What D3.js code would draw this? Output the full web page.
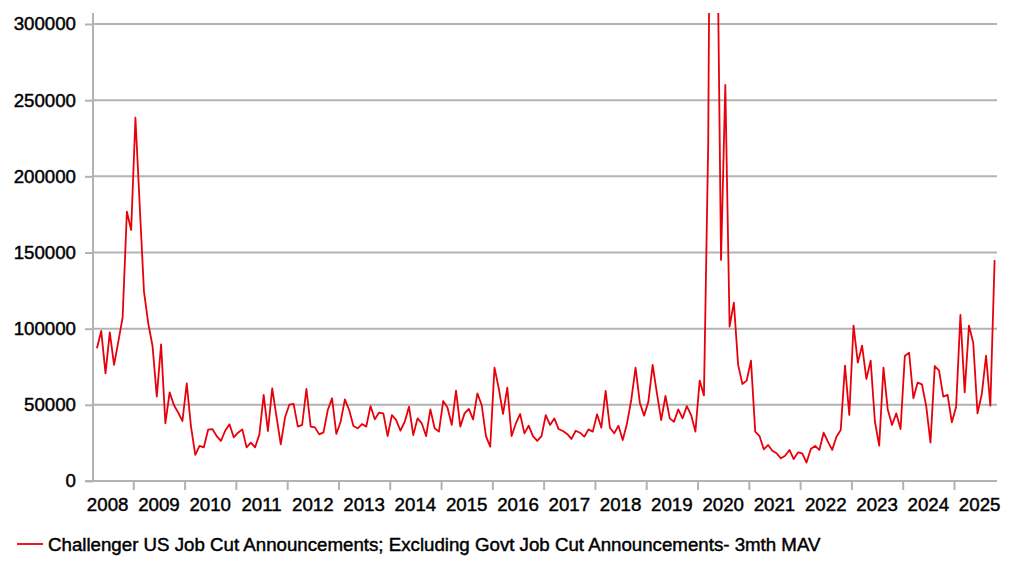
<!DOCTYPE html>
<html>
<head>
<meta charset="utf-8">
<script src="https://cdn.jsdelivr.net/npm/d3@7"></script>
<style>
  html, body { margin: 0; padding: 0; background: #fff; }
  svg { display: block; }
  text { font-family: "Liberation Sans", Arial, sans-serif; fill: #000; stroke: #000; stroke-width: 0.45px; }
</style>
</head>
<body>
<svg id="chart" width="1022" height="578"></svg>
<script>
// ---- data (monthly, starting April 2008) ----
const firstYear = 2008;
const firstMonth = 3; // 0 = January, so 3 = April
const jobCuts = [
  // 2008 Apr-Dec
  87100, 98500, 70700, 97600, 76200, 91500, 107200, 176800, 164800,
  // 2009
  238500, 181000, 124300, 103500, 88600, 55400, 89700, 37900, 58200, 49900, 44900, 39400,
  // 2010
  64100, 35700, 17100, 23000, 22100, 33700, 34100, 29500, 26300, 33000, 37200, 28700,
  // 2011
  31700, 33900, 22100, 25200, 22100, 30600, 56500, 32800, 60800, 42200, 24100, 41800,
  // 2012
  50100, 50600, 35700, 36800, 60400, 35700, 35200, 30600, 31900, 46600, 54300, 30900,
  // 2013
  38900, 53600, 46600, 36100, 34600, 37400, 35700, 49200, 40500, 44900, 44400, 29500,
  // 2014
  43300, 40000, 33000, 38900, 48800, 30200, 41100, 37800, 29500, 47000, 34600, 32400,
  // 2015
  52500, 48300, 36800, 59300, 35700, 44400, 47300, 40500, 57500, 49900, 29500, 22500,
  // 2016
  74400, 60800, 44000, 61300, 29500, 37800, 44000, 31300, 36300, 29500, 26300, 29500,
  // 2017
  43300, 36800, 41100, 34100, 32800, 30900, 27600, 33000, 31700, 29100, 33900, 32400,
  // 2018
  43800, 35000, 59100, 35000, 31300, 36300, 26900, 37800, 53200, 74400, 51400, 42900,
  // 2019
  52100, 76200, 57500, 40000, 55800, 41100, 38900, 47000, 41100, 49200, 43300, 32400,
  // 2020
  65900, 56200, 222000, 671000, 397000, 145100, 260000, 101300, 117100, 76200, 63700, 65900,
  // 2021
  79000, 32400, 29500, 20800, 23600, 19900, 18200, 14900, 16600, 20400, 14400, 18800,
  // 2022
  18200, 12100, 21000, 23000, 20400, 31700, 25800, 20400, 29100, 33500, 75700, 43300,
  // 2023
  102000, 77700, 88900, 67000, 79000, 38900, 23200, 74400, 47000, 36800, 44400, 34100,
  // 2024
  82100, 84200, 54300, 64600, 63400, 49200, 25200, 75500, 72400, 55400, 56500, 38500,
  // 2025 Jan-Oct
  48800, 109000, 58200, 102000, 90800, 44400, 56900, 82300, 49400, 145000
];
const yearLabels = ["2008","2009","2010","2011","2012","2013","2014","2015","2016",
                    "2017","2018","2019","2020","2021","2022","2023","2024","2025"];
const yTicks = [0, 50000, 100000, 150000, 200000, 250000, 300000];
const legendLabel = "Challenger US Job Cut Announcements; Excluding Govt Job Cut Announcements- 3mth MAV";

// ---- layout ----
const plotLeft = 93, plotRight = 997, plotTop = 13, plotBottom = 481;
const gridColor = "#b3b3b3";
const lineColor = "#e8000b";
const fontSize = "18.7px";

const svg = d3.select("#chart");

// x scale in decimal years
const x = d3.scaleLinear().domain([2008, 2025]).range([82, 954]);
const y = d3.scaleLinear().domain([0, 300000]).range([481, 24]);

const points = jobCuts.map((v, i) => {
  const m = firstMonth + i;
  return { t: firstYear + (m + 0.5) / 12, v: v };
});

// gridlines
svg.append("g").selectAll("line")
  .data(yTicks.filter(d => d > 0))
  .join("line")
  .attr("x1", plotLeft).attr("x2", plotRight)
  .attr("y1", d => y(d)).attr("y2", d => y(d))
  .attr("stroke", gridColor).attr("stroke-width", 2);

// y axis
const yAxis = d3.axisLeft(y).tickValues(yTicks).tickSize(8).tickPadding(9).tickFormat(d3.format("d"));
const gy = svg.append("g").attr("transform", `translate(${plotLeft},0)`).call(yAxis);
gy.select(".domain").remove();
gy.selectAll(".tick line").attr("stroke", gridColor).attr("stroke-width", 2);
gy.selectAll(".tick text").style("font-size", fontSize).style("font-family", "Liberation Sans, Arial, sans-serif").attr("fill", "#000");
svg.append("line").attr("x1", plotLeft).attr("x2", plotLeft).attr("y1", plotTop).attr("y2", plotBottom)
  .attr("stroke", gridColor).attr("stroke-width", 2);

// x axis: ticks at year boundaries, labels centred within each year
const tickYears = d3.range(2009, 2026);
const xAxis = d3.axisBottom(x).tickValues(tickYears).tickSize(9).tickFormat("");
const gx = svg.append("g").attr("transform", `translate(0,${plotBottom})`).call(xAxis);
gx.select(".domain").remove();
gx.selectAll(".tick line").attr("stroke", gridColor).attr("stroke-width", 2);
svg.append("line").attr("x1", plotLeft - 8).attr("x2", plotRight).attr("y1", plotBottom).attr("y2", plotBottom)
  .attr("stroke", gridColor).attr("stroke-width", 2);

svg.append("g").selectAll("text")
  .data(yearLabels)
  .join("text")
  .attr("x", d => x(+d + 0.5))
  .attr("y", 511)
  .attr("text-anchor", "middle")
  .style("font-size", fontSize)
  .text(d => d);

// clip
svg.append("clipPath").attr("id", "plotClip")
  .append("rect").attr("x", plotLeft).attr("y", plotTop)
  .attr("width", plotRight - plotLeft).attr("height", plotBottom - plotTop);

const line = d3.line().x(d => x(d.t)).y(d => y(d.v));
svg.append("path")
  .datum(points)
  .attr("clip-path", "url(#plotClip)")
  .attr("fill", "none")
  .attr("stroke", lineColor)
  .attr("stroke-width", 1.8)
  .attr("stroke-linejoin", "round")
  .attr("d", line);

// legend
const lg = svg.append("g");
lg.append("line").attr("x1", 17).attr("x2", 43).attr("y1", 544).attr("y2", 544)
  .attr("stroke", lineColor).attr("stroke-width", 1.8);
lg.append("text").attr("x", 48).attr("y", 550.5).style("font-size", fontSize).text(legendLabel);
</script>
</body>
</html>
